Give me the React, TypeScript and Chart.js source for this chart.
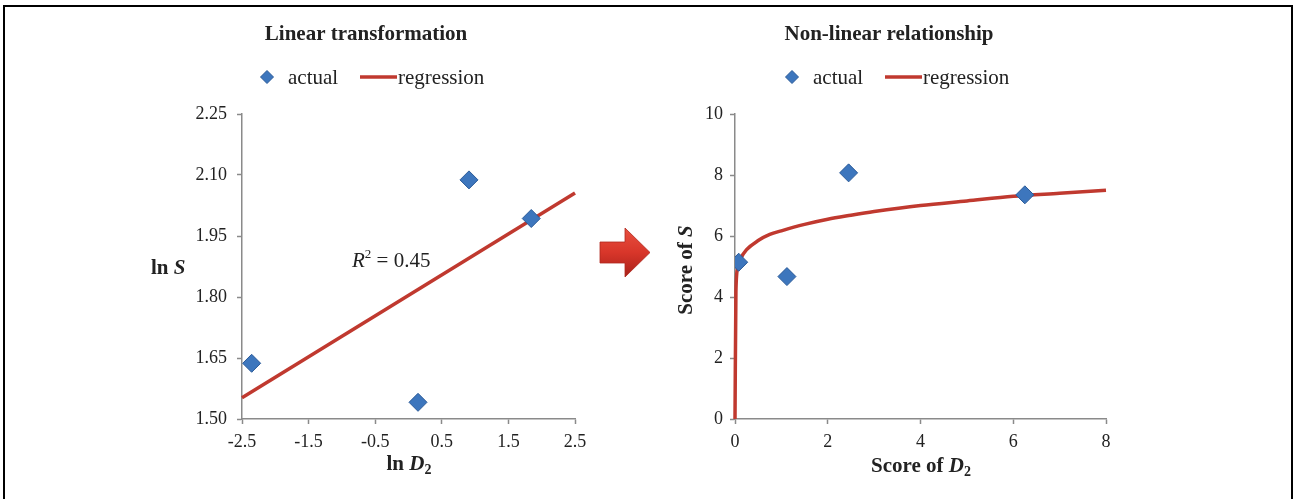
import React, { useEffect, useRef } from "react";
import { Chart, registerables } from "chart.js";
Chart.register(...registerables);

// ---- Left panel: linear transformation (ln D2 vs ln S)
const lnD = [-2.355, 0.143, 0.908, 1.843];
const lnS = [1.637, 1.541, 2.088, 1.993];
const lnRegX = [-2.5, 2.5];
const lnRegY = [1.552, 2.056];
const leftXTicks = [-2.5, -1.5, -0.5, 0.5, 1.5, 2.5];
const leftYTicks = [1.5, 1.65, 1.8, 1.95, 2.1, 2.25];

// ---- Right panel: non-linear relationship (Score of D2 vs Score of S)
const scoreD = [0.08, 1.12, 2.45, 6.25];
const scoreS = [5.14, 4.67, 8.07, 7.35];
const curveD = [0, 0.02, 0.06, 0.12, 0.25, 0.5, 0.75, 1, 1.5, 2, 2.5, 3, 4, 5, 6, 7, 8];
const curveS = [0, 4.2, 4.95, 5.25, 5.55, 5.85, 6.05, 6.17, 6.38, 6.55, 6.68, 6.8, 7.0, 7.15, 7.3, 7.4, 7.5];
const rightXTicks = [0, 2, 4, 6, 8];
const rightYTicks = [0, 2, 4, 6, 8, 10];

const SERIF = "'Liberation Serif', 'Times New Roman', serif";
const BLUE = "#3d76bd";
const BLUE_BORDER = "#2a5a98";
const RED = "#c0392f";
const AXIS = "#8a8a8a";
const TEXT = "#222";
const W = 1293;
const H = 499;

type Seg = { t: string; f: string; dy?: number };

function drawSegs(ctx: CanvasRenderingContext2D, segs: Seg[], x: number, y: number, align: "left" | "center") {
  ctx.save();
  ctx.textBaseline = "middle";
  ctx.textAlign = "left";
  ctx.fillStyle = TEXT;
  let total = 0;
  for (const s of segs) {
    ctx.font = s.f;
    total += ctx.measureText(s.t).width;
  }
  let cx = align === "center" ? x - total / 2 : x;
  for (const s of segs) {
    ctx.font = s.f;
    ctx.fillText(s.t, cx, y + (s.dy || 0));
    cx += ctx.measureText(s.t).width;
  }
  ctx.restore();
}

function drawLegend(ctx: CanvasRenderingContext2D, x0: number, y: number) {
  ctx.save();
  ctx.fillStyle = BLUE;
  ctx.strokeStyle = BLUE_BORDER;
  ctx.lineWidth = 1;
  ctx.beginPath();
  ctx.moveTo(x0, y - 6.5);
  ctx.lineTo(x0 + 6.5, y);
  ctx.lineTo(x0, y + 6.5);
  ctx.lineTo(x0 - 6.5, y);
  ctx.closePath();
  ctx.fill();
  ctx.stroke();
  ctx.font = `21px ${SERIF}`;
  ctx.fillStyle = TEXT;
  ctx.textBaseline = "middle";
  ctx.fillText("actual", x0 + 21, y + 1);
  ctx.strokeStyle = RED;
  ctx.lineWidth = 3.5;
  ctx.beginPath();
  ctx.moveTo(x0 + 93, y);
  ctx.lineTo(x0 + 130, y);
  ctx.stroke();
  ctx.fillText("regression", x0 + 131, y + 1);
  ctx.restore();
}

const leftText = {
  id: "leftText",
  afterDraw(chart: any) {
    const ctx = chart.ctx;
    drawSegs(ctx, [{ t: "Linear transformation", f: `bold 21px ${SERIF}` }], 366, 35, "center");
    drawLegend(ctx, 267, 77);
    drawSegs(ctx, [{ t: "ln ", f: `bold 21px ${SERIF}` }, { t: "S", f: `italic bold 21px ${SERIF}` }], 151, 269, "left");
    drawSegs(
      ctx,
      [
        { t: "ln ", f: `bold 21px ${SERIF}` },
        { t: "D", f: `italic bold 21px ${SERIF}` },
        { t: "2", f: `bold 14px ${SERIF}`, dy: 5 },
      ],
      409,
      465,
      "center"
    );
    drawSegs(
      ctx,
      [
        { t: "R", f: `italic 21px ${SERIF}` },
        { t: "2", f: `13px ${SERIF}`, dy: -6 },
        { t: " = 0.45", f: `21px ${SERIF}` },
      ],
      352,
      261,
      "left"
    );
  },
};

const rightText = {
  id: "rightText",
  afterDraw(chart: any) {
    const ctx = chart.ctx;
    drawSegs(ctx, [{ t: "Non-linear relationship", f: `bold 21px ${SERIF}` }], 889, 35, "center");
    drawLegend(ctx, 792, 77);
    drawSegs(
      ctx,
      [
        { t: "Score of ", f: `bold 21px ${SERIF}` },
        { t: "D", f: `italic bold 21px ${SERIF}` },
        { t: "2", f: `bold 14px ${SERIF}`, dy: 5 },
      ],
      921,
      467,
      "center"
    );
    ctx.save();
    ctx.translate(687, 270);
    ctx.rotate(-Math.PI / 2);
    drawSegs(
      ctx,
      [
        { t: "Score of ", f: `bold 21px ${SERIF}` },
        { t: "S", f: `italic bold 21px ${SERIF}` },
      ],
      0,
      0,
      "center"
    );
    ctx.restore();
  },
};

function axisOpts(min: number, max: number, ticks: number[], fmt: (v: number) => string, fit: (s: any) => void, pad: number) {
  return {
    type: "linear" as const,
    min,
    max,
    afterBuildTicks: (s: any) => {
      s.ticks = ticks.map((v) => ({ value: v }));
    },
    afterFit: fit,
    ticks: {
      callback: (v: any) => fmt(Number(v)),
      font: { family: SERIF, size: 18 },
      color: TEXT,
      padding: pad,
      maxRotation: 0,
      autoSkip: false,
    },
    grid: {
      display: true,
      drawOnChartArea: false,
      drawTicks: true,
      tickLength: 5,
      tickColor: AXIS,
      tickWidth: 1.5,
    },
    border: { display: true, color: AXIS, width: 1.5 },
    title: { display: false },
  };
}

function makeLeft(canvas: HTMLCanvasElement) {
  return new Chart(canvas, {
    type: "scatter",
    data: {
      datasets: [
        {
          label: "actual",
          data: lnD.map((x, i) => ({ x, y: lnS[i] })),
          pointStyle: "rectRot",
          pointRadius: 9,
          backgroundColor: BLUE,
          borderColor: BLUE_BORDER,
          borderWidth: 1,
          order: 0,
        },
        {
          label: "regression",
          type: "line",
          data: lnRegX.map((x, i) => ({ x, y: lnRegY[i] })),
          borderColor: RED,
          borderWidth: 3.5,
          pointRadius: 0,
          fill: false,
          clip: false as any,
          order: 1,
        } as any,
      ],
    },
    options: {
      animation: false,
      responsive: false,
      events: [],
      layout: { padding: { left: 0, top: 114, right: W - 575, bottom: 0 } },
      plugins: { legend: { display: false }, tooltip: { enabled: false }, title: { display: false } },
      scales: {
        x: axisOpts(-2.5, 2.5, leftXTicks, (v) => v.toFixed(1), (s: any) => { s.height = H - 114 - 305; }, 7),
        y: axisOpts(1.5, 2.25, leftYTicks, (v) => v.toFixed(2), (s: any) => { s.width = 242; }, 10),
      },
    } as any,
    plugins: [leftText],
  });
}

function makeRight(canvas: HTMLCanvasElement) {
  return new Chart(canvas, {
    type: "scatter",
    data: {
      datasets: [
        {
          label: "actual",
          data: scoreD.map((x, i) => ({ x, y: scoreS[i] })),
          pointStyle: "rectRot",
          pointRadius: 9,
          backgroundColor: BLUE,
          borderColor: BLUE_BORDER,
          borderWidth: 1,
          order: 0,
        },
        {
          label: "regression",
          type: "line",
          data: curveD.map((x, i) => ({ x, y: curveS[i] })),
          borderColor: RED,
          borderWidth: 3.5,
          pointRadius: 0,
          cubicInterpolationMode: "monotone",
          fill: false,
          clip: false as any,
          order: 1,
        } as any,
      ],
    },
    options: {
      animation: false,
      responsive: false,
      events: [],
      layout: { padding: { left: 640, top: 114, right: W - 1106, bottom: 0 } },
      plugins: { legend: { display: false }, tooltip: { enabled: false }, title: { display: false } },
      scales: {
        x: axisOpts(0, 8, rightXTicks, (v) => String(v), (s: any) => { s.height = H - 114 - 305; }, 7),
        y: axisOpts(0, 10, rightYTicks, (v) => String(v), (s: any) => { s.width = 95; }, 7),
      },
    } as any,
    plugins: [rightText],
  });
}

function Arrow() {
  return (
    <svg width={60} height={60} style={{ position: "absolute", left: 596, top: 224 }} viewBox="596 224 60 60">
      <defs>
        <linearGradient id="arrG" x1="0" y1="0" x2="0" y2="1">
          <stop offset="0" stopColor="#e8503f" />
          <stop offset="0.5" stopColor="#d8362a" />
          <stop offset="1" stopColor="#a8211a" />
        </linearGradient>
      </defs>
      <path
        d="M600,242 L625,242 L625,228 L650,252.5 L625,277 L625,263 L600,263 Z"
        fill="url(#arrG)"
        stroke="#b02a20"
        strokeWidth={0.8}
      />
    </svg>
  );
}

export default function App() {
  const leftRef = useRef<HTMLCanvasElement>(null);
  const rightRef = useRef<HTMLCanvasElement>(null);
  useEffect(() => {
    const a = makeLeft(leftRef.current!);
    const b = makeRight(rightRef.current!);
    return () => {
      a.destroy();
      b.destroy();
    };
  }, []);
  return (
    <div style={{ position: "absolute", left: 0, top: 0, width: W, height: H, overflow: "hidden", background: "#fff" }}>
      <div
        style={{
          position: "absolute",
          left: 3,
          top: 5,
          width: W - 3 - 4,
          height: 700,
          borderTop: "2px solid #000",
          borderLeft: "2px solid #000",
          borderRight: "2px solid #000",
        }}
      />
      <canvas ref={leftRef} width={W} height={H} style={{ position: "absolute", left: 0, top: 0 }} />
      <canvas ref={rightRef} width={W} height={H} style={{ position: "absolute", left: 0, top: 0 }} />
      <Arrow />
    </div>
  );
}
